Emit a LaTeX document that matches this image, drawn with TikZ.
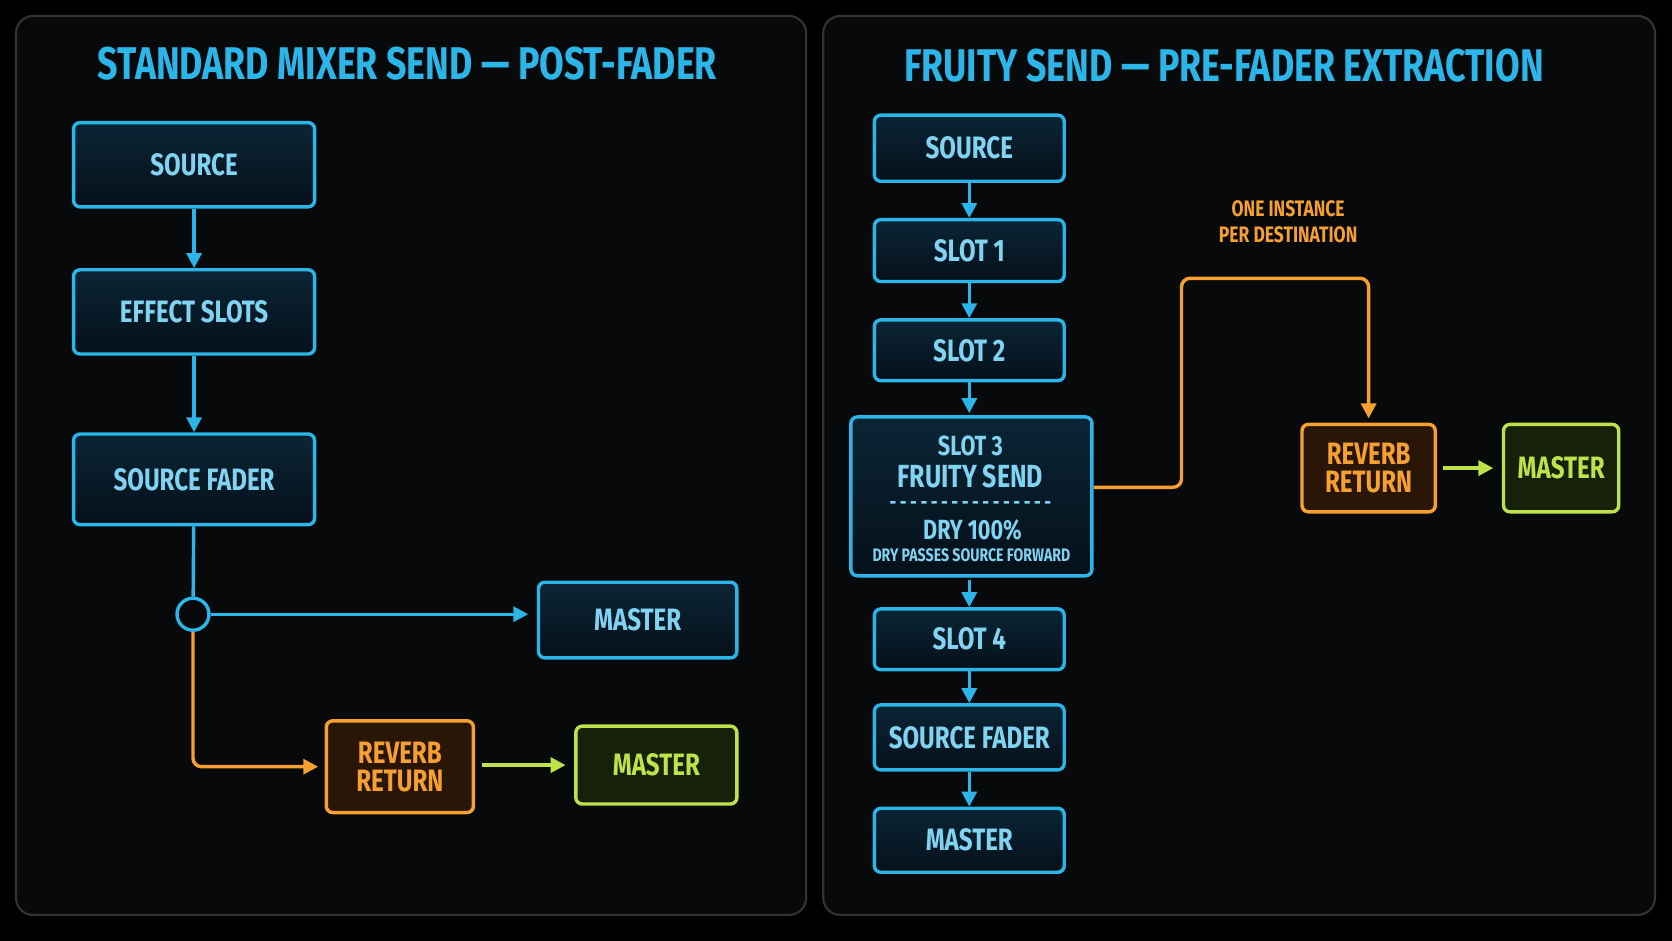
\documentclass[tikz,border=0pt]{standalone}
\usepackage{fontspec}
\setmainfont{Fira Sans}[FakeStretch=0.78]
\usetikzlibrary{arrows.meta}
\definecolor{bl}{HTML}{2BB5E8}
\definecolor{bfill}{HTML}{0B2536}
\definecolor{bfill2}{HTML}{051019}
\definecolor{orn}{HTML}{F5A030}
\definecolor{ofill}{HTML}{2A1606}
\definecolor{grn}{HTML}{BDE24A}
\definecolor{gfill}{HTML}{172008}
\definecolor{panel}{HTML}{07090B}
\begin{document}
\begin{tikzpicture}[x=0.5pt,y=-0.5pt,
  box/.style={draw=#1,line width=1.6pt,rounded corners=3pt,font=\bfseries\fontsize{14.5}{16}\selectfont,align=center,inner sep=0pt},
  bbox/.style={box=bl,top color=bfill,bottom color=bfill2,text=bl!60!white},
  obox/.style={box=orn,fill=ofill,text=orn},
  gbox/.style={box=grn,fill=gfill,text=grn},
  ar/.style={line width=1.6pt,-{Triangle[length=7pt,width=7pt]}},
  txt/.style={inner sep=0pt,text=bl!60!white},
  title/.style={font=\bfseries\fontsize{21.5}{24}\selectfont,text=bl}]
\useasboundingbox[fill=black] (0,0) rectangle (1568,882);
\draw[rounded corners=8pt,fill=panel,draw=white!20!black,line width=1pt] (15,15) rectangle (756,858);
\draw[rounded corners=8pt,fill=panel,draw=white!20!black,line width=1pt] (772,15) rectangle (1552,858);
\node[title] (t1) at (382,60) {STANDARD MIXER SEND — POST-FADER};
\node[title] (t2) at (1148,62) {FRUITY SEND — PRE-FADER EXTRACTION};
% left
\node[bbox,minimum width=113pt,minimum height=39.5pt] (ls) at (182,154.5) {SOURCE};
\node[bbox,minimum width=113pt,minimum height=39.5pt] (le) at (182,292.5) {EFFECT SLOTS};
\node[bbox,minimum width=113pt,minimum height=42.5pt] (lf) at (182,449.5) {SOURCE FADER};
\node[bbox,minimum width=93pt,minimum height=35.5pt] (lm) at (598,581.5) {MASTER};
\node[obox,minimum width=69pt,minimum height=43pt] (lr) at (375,719) {REVERB\\[-3pt]RETURN};
\node[gbox,minimum width=75.5pt,minimum height=36.5pt] (lg) at (615.5,717.5) {MASTER};
\node[circle,draw=bl,line width=1.6pt,minimum size=15pt,inner sep=0pt] (c) at (181,576) {};
\draw[ar,bl] (ls) -- (le);
\draw[ar,bl] (le) -- (lf);
\draw[line width=1.6pt,bl] (lf) -- (c);
\draw[ar,bl] (c.east) -- ([xshift=-4pt]c.east -| lm.west);
\draw[ar,orn,rounded corners=4pt] (c.south) |- ([xshift=-3pt]lr.west);
\draw[ar,grn] ([xshift=3pt]lr.east |- lg.west) -- ([xshift=-4pt]lg.west);
% right
\node[bbox,minimum width=89pt,minimum height=31pt] (rs) at (909,139) {SOURCE};
\node[bbox,minimum width=89pt,minimum height=29pt] (r1) at (909,235) {SLOT 1};
\node[bbox,minimum width=89pt,minimum height=28.5pt] (r2) at (909,328.5) {SLOT 2};
\node[bbox,minimum width=113pt,minimum height=74.5pt] (r3) at (911,465.5) {};
\node[txt,font=\bfseries\fontsize{13}{15}\selectfont] (r3a) at (910,418) {SLOT 3};
\node[txt,font=\bfseries\fontsize{15}{17}\selectfont] (r3b) at (910,447) {FRUITY SEND};
\node[txt,font=\bfseries\fontsize{10}{12}\selectfont] (r3c) at (910,474) {-\,-\,-\,-\,-\,-\,-\,-\,-\,-\,-\,-\,-\,-\,-\,-};
\node[txt,font=\bfseries\fontsize{13}{15}\selectfont] (r3d) at (912,497) {DRY 100\%};
\node[txt,font=\bfseries\fontsize{8.5}{10}\selectfont] (r3e) at (911,521) {DRY PASSES SOURCE FORWARD};
\node[bbox,minimum width=89pt,minimum height=28.5pt] (r4) at (909,599.5) {SLOT 4};
\node[bbox,minimum width=89pt,minimum height=30.5pt] (rf) at (909,691.5) {SOURCE FADER};
\node[bbox,minimum width=89pt,minimum height=30pt] (rm) at (909,788) {MASTER};
\node[obox,minimum width=62.5pt,minimum height=41pt] (rr) at (1283.5,439) {REVERB\\[-3pt]RETURN};
\node[gbox,minimum width=54pt,minimum height=41pt] (rg) at (1464,439) {MASTER};
\node[font=\bfseries\fontsize{10.5}{12.5}\selectfont,text=orn,align=center] (lab) at (1208,208) {ONE INSTANCE\\PER DESTINATION};
\draw[ar,bl] (rs) -- (r1);
\draw[ar,bl] (r1) -- (r2);
\draw[ar,bl] (r2) -- ([yshift=1pt]r3.north -| r2.south);
\draw[ar,bl] ([yshift=-1pt]r3.south -| r4.north) -- (r4);
\draw[ar,bl] (r4) -- (rf);
\draw[ar,bl] (rf) -- (rm);
\coordinate (o1) at (1108,261);
\draw[ar,orn,rounded corners=4pt] (r3.east |- 0,457) -| (o1) -| ([yshift=2pt]rr.north);
\draw[ar,grn] ([xshift=3pt]rr.east) -- ([xshift=-4pt]rg.west);
\end{tikzpicture}
\end{document}
